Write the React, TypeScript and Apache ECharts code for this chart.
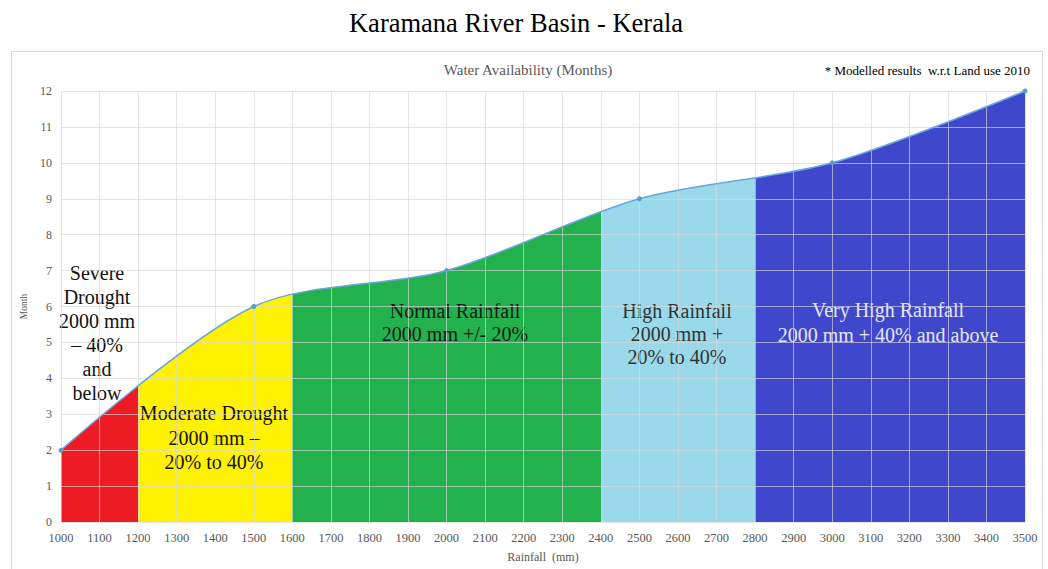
import React, { useEffect, useRef } from "react";
import * as echarts from "echarts";

const rainfall = [1000, 1500, 2000, 2500, 3000, 3500];
const months = [2, 6, 7, 9, 10, 12];
const bandEdges = [1000, 1200, 1600, 2400, 2800, 3500];
const bandColors = ["#ED1C24", "#FFF200", "#22B14C", "#99D9EA", "#3F48CC"];
const xTicks = { min: 1000, max: 3500, interval: 100 };
const yTicks = { min: 0, max: 12, interval: 1 };

const SERIF = "Liberation Serif";

export default function App() {
  const ref = useRef<HTMLDivElement>(null);
  useEffect(() => {
    if (!ref.current) return;
    const chart = echarts.init(ref.current, undefined, { renderer: "svg" });
    const pts = rainfall.map((x, i) => [x, months[i]]);
    const pieces = bandColors.map((c, i) => ({
      gte: bandEdges[i],
      lt: i === bandColors.length - 1 ? bandEdges[i + 1] + 1 : bandEdges[i + 1],
      color: c,
    }));
    const gridLine = { show: true, lineStyle: { color: "rgba(215,215,215,0.65)", width: 1 } };
    const label = (text: string, x: number, y: number, fill: string, lh = 24, size = 20) => ({
      type: "text",
      x,
      y,
      z: 3,
      style: {
        text,
        fill,
        fontFamily: SERIF,
        fontSize: size,
        align: "center",
        verticalAlign: "middle",
        lineHeight: lh,
      },
    });
    chart.setOption({
      animation: false,
      backgroundColor: "#ffffff",
      grid: { left: 61, right: 23, top: 91, bottom: 47 },
      xAxis: {
        type: "value",
        ...xTicks,
        z: 5,
        name: "Rainfall  (mm)",
        nameLocation: "middle",
        nameGap: 29,
        nameTextStyle: { fontFamily: SERIF, fontSize: 12, color: "#595959" },
        axisLine: { show: false },
        axisTick: { show: false },
        axisLabel: {
          fontFamily: SERIF,
          fontSize: 12.5,
          color: "#595959",
          margin: 9,
          formatter: (v: number) => String(v),
        },
        splitLine: gridLine,
      },
      yAxis: {
        type: "value",
        ...yTicks,
        z: 5,
        name: "Month",
        nameLocation: "middle",
        nameGap: 31,
        nameTextStyle: { fontFamily: SERIF, fontSize: 9.5, color: "#595959" },
        axisLine: { show: false },
        axisTick: { show: false },
        axisLabel: { fontFamily: SERIF, fontSize: 12, color: "#595959", margin: 9 },
        splitLine: gridLine,
      },
      visualMap: {
        show: false,
        type: "piecewise",
        seriesIndex: 0,
        dimension: 0,
        pieces,
      },
      series: [
        {
          type: "line",
          data: pts,
          smooth: 0.3,
          showSymbol: false,
          lineStyle: { width: 0 },
          areaStyle: { opacity: 1 },
          z: 2,
        },
        {
          type: "line",
          data: pts,
          smooth: 0.3,
          symbol: "circle",
          symbolSize: 5,
          itemStyle: { color: "#5B9BD5" },
          lineStyle: { color: "#6AA6DD", width: 1.5 },
          z: 6,
        },
      ],
      graphic: [
        {
          type: "rect",
          shape: { x: 11.5, y: 51.5, width: 1031, height: 530 },
          style: { fill: "none", stroke: "#d9d9d9", lineWidth: 1 },
          z: -1,
        },
        {
          type: "text",
          x: 516,
          y: 23,
          style: {
            text: "Karamana River Basin - Kerala",
            fill: "#000",
            fontFamily: SERIF,
            fontSize: 26.5,
            align: "center",
            verticalAlign: "middle",
          },
        },
        {
          type: "text",
          x: 528,
          y: 70,
          style: {
            text: "Water Availability (Months)",
            fill: "#595959",
            fontFamily: SERIF,
            fontSize: 15,
            align: "center",
            verticalAlign: "middle",
          },
        },
        {
          type: "text",
          x: 1030,
          y: 70,
          style: {
            text: "* Modelled results  w.r.t Land use 2010",
            fill: "#000",
            fontFamily: SERIF,
            fontSize: 13,
            align: "right",
            verticalAlign: "middle",
          },
        },
        label("Severe\nDrought\n2000 mm\n– 40%\nand\nbelow", 97, 333, "#111", 24),
        label("Moderate Drought\n2000 mm –\n20% to 40%", 214, 437.5, "#111", 24.5),
        label("Normal Rainfall\n2000 mm +/- 20%", 455, 322, "#1a1a1a", 23),
        label("High Rainfall\n2000 mm +\n20% to 40%", 677, 334, "#333", 23),
        label("Very High Rainfall\n2000 mm + 40% and above", 888, 322.5, "#e6e6f5", 25),
      ],
    });
    return () => chart.dispose();
  }, []);
  return (
    <div
      ref={ref}
      style={{ position: "absolute", left: 0, top: 0, width: 1048, height: 569, background: "#fff" }}
    />
  );
}
